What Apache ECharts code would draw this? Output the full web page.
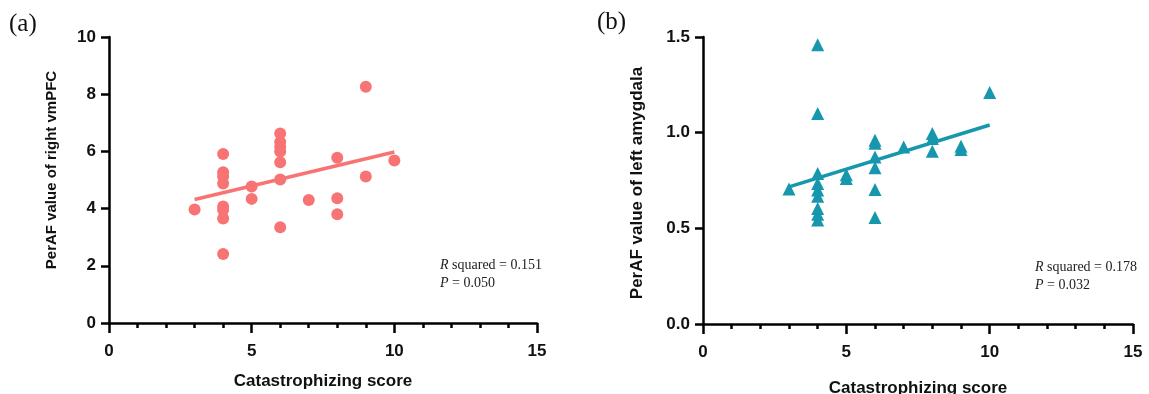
<!DOCTYPE html>
<html><head><meta charset="utf-8">
<script src="https://cdn.jsdelivr.net/npm/echarts@6/dist/echarts.min.js"></script>
<style>html,body{margin:0;padding:0;background:#fff}#c{width:1149px;height:394px}</style>
</head><body><div id="c"></div>
<script>
// Panel (a): right vmPFC
const scoreA = [3,4,4,4,4,4,4,4,4,5,5,6,6,6,6,6,6,6,7,8,8,8,9,9,10];
const perafA = [3.97,5.91,5.27,5.12,4.88,4.07,3.95,3.65,2.41,4.77,4.34,6.63,6.33,6.15,6.0,5.62,5.02,3.35,4.30,5.78,4.36,3.80,8.26,5.12,5.68];
const fitXA = [3,10];
const fitYA = [4.32,5.98];
// Panel (b): left amygdala
const scoreB = [3,4,4,4,4,4,4,4,4,4,5,5,6,6,6,6,6,6,7,8,8,8,9,9,10];
const perafB = [0.705,1.46,1.10,0.787,0.734,0.70,0.668,0.604,0.574,0.543,0.78,0.76,0.96,0.945,0.873,0.816,0.703,0.557,0.925,0.995,0.97,0.903,0.929,0.912,1.21];
const fitXB = [3,10];
const fitYB = [0.717,1.04];
const xTicks = [0,5,10,15];
const yLabelA = 'PerAF value of right vmPFC';
const yLabelB = 'PerAF value of left amygdala';
const xLabel = 'Catastrophizing score';

const zip = (a,b)=>a.map((v,i)=>[v,b[i]]);
const axisLine = {show:true, onZero:false, lineStyle:{color:'#000', width:2.5}};
const tickStyle = {color:'#000', width:2.5};
const sans = 'Liberation Sans, Arial, sans-serif';
const lblFont = {color:'#111', fontFamily:sans, fontWeight:'bold', fontSize:17};

function xAxis(gi, gap){
  return {type:'value', gridIndex:gi, min:0, max:15, interval:5,
    name:xLabel, nameLocation:'middle', nameGap:gap,
    nameTextStyle:Object.assign({}, lblFont, {fontSize:17}),
    axisLine, splitLine:{show:false},
    axisTick:{show:true, length:10, lineStyle:tickStyle},
    minorTick:{show:true, splitNumber:5, length:5, lineStyle:tickStyle},
    axisLabel:Object.assign({margin:20, formatter:v=>xTicks.includes(v)?String(v):''}, lblFont)};
}
function yAxis(gi, max, interval, fmt){
  return {type:'value', gridIndex:gi, min:0, max, interval,
    axisLine, splitLine:{show:false},
    axisTick:{show:true, length:8, lineStyle:tickStyle},
    axisLabel:Object.assign({margin:13, formatter:fmt}, lblFont)};
}
const serif = 'Liberation Serif, Times New Roman, serif';
function note(x,y,r,p){
  return {type:'text', left:x, top:y, style:{
    text:'{i|R} squared = '+r+'\n{i|P} = '+p,
    font:'14px '+serif, fill:'#222', lineHeight:18,
    rich:{i:{fontStyle:'italic', fontFamily:serif, fontSize:14, fill:'#222'}}}};
}
function yName(text, x, y, size){
  return {type:'text', x, y, rotation:Math.PI/2, style:{text, x:0, y:0,
    font:'bold '+size+'px '+sans, fill:'#111', align:'center', verticalAlign:'middle'}};
}

const chart = echarts.init(document.getElementById('c'), null, {renderer:'canvas'});
chart.setOption({
  animation:false,
  backgroundColor:'#fff',
  grid:[{left:109, top:37, width:428, height:286, outerBoundsMode:'none'},
        {left:703, top:37, width:430, height:287, outerBoundsMode:'none'}],
  xAxis:[xAxis(0,50), xAxis(1,56)],
  yAxis:[yAxis(0,10,2,v=>String(v)),
         yAxis(1,1.5,0.5,v=>v.toFixed(1))],
  graphic:[
    {type:'text', left:9, top:12, style:{text:'(a)', font:'25px '+serif, fill:'#111'}},
    {type:'text', left:597, top:10, style:{text:'(b)', font:'25px '+serif, fill:'#111'}},
    yName(yLabelA, 52, 170, 15),
    yName(yLabelB, 637, 183, 17),
    note(440,256,'0.151','0.050'),
    note(1035,258,'0.178','0.032')
  ],
  series:[
    {type:'line', xAxisIndex:0, yAxisIndex:0, data:zip(fitXA,fitYA), symbol:'none',
     lineStyle:{color:'#F87474', width:3.5}, z:2},
    {type:'scatter', xAxisIndex:0, yAxisIndex:0, data:zip(scoreA,perafA), symbol:'circle', symbolSize:12,
     itemStyle:{color:'#F87474', opacity:1}, z:3},
    {type:'line', xAxisIndex:1, yAxisIndex:1, data:zip(fitXB,fitYB), symbol:'none',
     lineStyle:{color:'#1797AE', width:3.5}, z:2},
    {type:'scatter', xAxisIndex:1, yAxisIndex:1, data:zip(scoreB,perafB), symbol:'triangle', symbolSize:13,
     itemStyle:{color:'#1797AE', opacity:1}, z:3}
  ]
});
</script></body></html>
